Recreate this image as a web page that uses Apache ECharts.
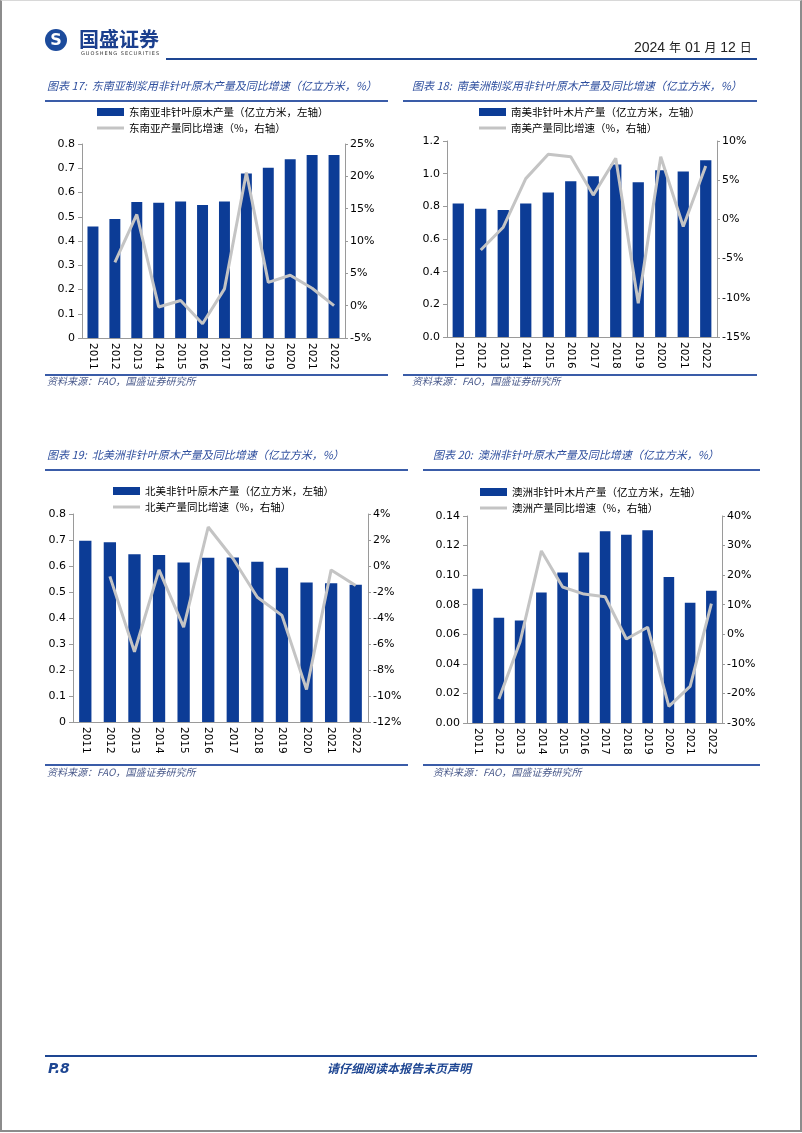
<!DOCTYPE html>
<html>
<head>
<meta charset="utf-8">
<script src="https://cdn.jsdelivr.net/npm/echarts/dist/echarts.min.js"></script>
<style>
  html, body { margin: 0; padding: 0; background: #fff; }
  #page { position: relative; width: 802px; height: 1133px; overflow: hidden; background: #fff; }
  #chart { position: absolute; left: 0; top: 0; width: 802px; height: 1133px; }
  .t { position: absolute; white-space: nowrap; font-family: "Noto Sans CJK SC", sans-serif; }
  .title { font-size: 11px; font-style: italic; color: #2f4f9e; line-height: 14px; }
  .src { font-size: 10px; font-style: italic; color: #4b5b8c; line-height: 14px; }
  .hl { position: absolute; background: #3a5ca8; height: 2px; }
  #border { position: absolute; left: 0; top: 0; width: 798px; height: 1129px; border: 2px solid #8c8c8c; border-top: 1px solid #d8d8d8; box-sizing: content-box; pointer-events: none; }
</style>
</head>
<body>
<div id="page">
  <div id="chart"></div>

  <!-- header -->
  <div style="position:absolute;left:45px;top:29px;width:22px;height:22px;border-radius:50%;background:#1c4b9c;"></div>
  <div class="t" style="left:45px;top:29px;width:22px;height:22px;line-height:22px;text-align:center;color:#fff;font-weight:bold;font-size:16px;font-family:'DejaVu Sans',sans-serif;">S</div>
  <div class="t" style="left:79px;top:27px;font-size:20px;font-weight:bold;color:#1b3f8e;line-height:24px;">国盛证券</div>
  <div class="t" style="left:81px;top:50px;font-size:5px;color:#333;line-height:6px;letter-spacing:1px;font-family:'DejaVu Sans',sans-serif;">GUOSHENG SECURITIES</div>
  <div class="t" style="left:634px;top:38px;font-size:14px;color:#222;line-height:18px;font-family:'Liberation Sans','Noto Sans CJK SC',sans-serif;">2024 <span style="font-size:12px;font-family:'Noto Sans CJK SC'">年</span> 01 <span style="font-size:12px;font-family:'Noto Sans CJK SC'">月</span> 12 <span style="font-size:12px;font-family:'Noto Sans CJK SC'">日</span></div>
  <div class="hl" style="left:166px;top:58px;width:591px;background:#1e4692;"></div>

  <!-- titles -->
  <div class="t title" style="left:47px;top:78px;">图表 17:&nbsp;&nbsp;东南亚制浆用非针叶原木产量及同比增速（亿立方米，%）</div>
  <div class="t title" style="left:412px;top:78px;">图表 18:&nbsp;&nbsp;南美洲制浆用非针叶原木产量及同比增速（亿立方米，%）</div>
  <div class="hl" style="left:45px;top:100px;width:343px;"></div>
  <div class="hl" style="left:403px;top:100px;width:354px;"></div>
  <div class="hl" style="left:45px;top:374px;width:343px;"></div>
  <div class="hl" style="left:403px;top:374px;width:354px;"></div>
  <div class="t src" style="left:47px;top:374px;">资料来源：FAO，国盛证券研究所</div>
  <div class="t src" style="left:412px;top:374px;">资料来源：FAO，国盛证券研究所</div>

  <div class="t title" style="left:47px;top:447px;">图表 19:&nbsp;&nbsp;北美洲非针叶原木产量及同比增速（亿立方米，%）</div>
  <div class="t title" style="left:433px;top:447px;">图表 20:&nbsp;&nbsp;澳洲非针叶原木产量及同比增速（亿立方米，%）</div>
  <div class="hl" style="left:45px;top:469px;width:363px;"></div>
  <div class="hl" style="left:423px;top:469px;width:337px;"></div>
  <div class="hl" style="left:45px;top:764px;width:363px;"></div>
  <div class="hl" style="left:423px;top:764px;width:337px;"></div>
  <div class="t src" style="left:47px;top:765px;">资料来源：FAO，国盛证券研究所</div>
  <div class="t src" style="left:433px;top:765px;">资料来源：FAO，国盛证券研究所</div>

  <!-- footer -->
  <div class="hl" style="left:45px;top:1055px;width:712px;background:#1e4692;"></div>
  <div class="t" style="left:48px;top:1059px;font-size:14px;font-weight:bold;font-style:italic;color:#1e4692;line-height:18px;font-family:'DejaVu Sans',sans-serif;">P.8</div>
  <div class="t" style="left:318px;top:1059px;width:162px;text-align:center;font-size:12px;font-weight:bold;font-style:italic;color:#1e4692;line-height:18px;">请仔细阅读本报告末页声明</div>

  <div id="border"></div>
</div>

<script>
// ---------------- data ----------------
var years = ['2011','2012','2013','2014','2015','2016','2017','2018','2019','2020','2021','2022'];

var seaName = ['东南亚非针叶原木产量（亿立方米，左轴）', '东南亚产量同比增速（%，右轴）'];
var seaVol = [0.460, 0.491, 0.561, 0.558, 0.563, 0.548, 0.563, 0.678, 0.702, 0.737, 0.755, 0.755];
var seaYoY = [null, 6.7, 14.1, -0.2, 0.8, -2.8, 2.6, 20.6, 3.6, 4.7, 2.7, 0.0];

var samName = ['南美非针叶木片产量（亿立方米，左轴）', '南美产量同比增速（%，右轴）'];
var samVol = [0.818, 0.785, 0.777, 0.818, 0.885, 0.954, 0.984, 1.056, 0.948, 1.021, 1.013, 1.082];
var samYoY = [null, -3.9, -1.0, 5.2, 8.3, 8.0, 3.1, 7.8, -10.7, 8.0, -0.9, 6.8];

var namName = ['北美非针叶原木产量（亿立方米，左轴）', '北美产量同比增速（%，右轴）'];
var namVol = [0.697, 0.691, 0.645, 0.642, 0.613, 0.632, 0.633, 0.616, 0.593, 0.537, 0.534, 0.528];
var namYoY = [null, -0.8, -6.6, -0.3, -4.7, 3.0, 0.6, -2.4, -3.8, -9.5, -0.3, -1.5];

var ausName = ['澳洲非针叶木片产量（亿立方米，左轴）', '澳洲产量同比增速（%，右轴）'];
var ausVol = [0.0908, 0.0712, 0.0694, 0.0883, 0.1018, 0.1153, 0.1297, 0.1274, 0.1303, 0.0987, 0.0813, 0.0894];
var ausYoY = [null, -21.9, -2.5, 28.2, 16.0, 13.6, 12.7, -1.6, 2.4, -24.4, -17.6, 10.4];

// axis ranges: [min, max, interval, decimals]
var seaLeftAxis = [0, 0.8, 0.1, 1];   var seaRightAxis = [-5, 25, 5];
var samLeftAxis = [0, 1.2, 0.2, 1];   var samRightAxis = [-15, 10, 5];
var namLeftAxis = [0, 0.8, 0.1, 1];   var namRightAxis = [-12, 4, 2];
var ausLeftAxis = [0, 0.14, 0.02, 2]; var ausRightAxis = [-30, 40, 10];

// ---------------- layout ----------------
var panels = [
  { names: seaName, vol: seaVol, yoy: seaYoY, la: seaLeftAxis, ra: seaRightAxis, zeroPlain: true,
    grid: { left: 82, top: 144, width: 263, height: 194 }, legend: { left: 97, top: 105 } },
  { names: samName, vol: samVol, yoy: samYoY, la: samLeftAxis, ra: samRightAxis, zeroPlain: false,
    grid: { left: 447, top: 141, width: 270, height: 196 }, legend: { left: 479, top: 105 } },
  { names: namName, vol: namVol, yoy: namYoY, la: namLeftAxis, ra: namRightAxis, zeroPlain: true,
    grid: { left: 73, top: 514, width: 295, height: 208 }, legend: { left: 113, top: 484 } },
  { names: ausName, vol: ausVol, yoy: ausYoY, la: ausLeftAxis, ra: ausRightAxis, zeroPlain: false,
    grid: { left: 467, top: 516, width: 255, height: 207 }, legend: { left: 480, top: 485 } }
];

var BAR = '#0c3c96', LINE = '#c4c4c4', AX = '#9a9a9a';
var numFont = 'DejaVu Sans';
var option = { animation: false, grid: [], xAxis: [], yAxis: [], series: [], legend: [] };

panels.forEach(function (p, i) {
  option.grid.push(Object.assign({ containLabel: false }, p.grid));
  option.xAxis.push({
    type: 'category', gridIndex: i, data: years,
    axisLine: { show: true, lineStyle: { color: AX, width: 1 } },
    axisTick: { show: false },
    axisLabel: { rotate: -90, interval: 0, margin: 5, color: '#000', fontFamily: numFont, fontSize: 10.5 }
  });
  var dec = p.la[3], zp = p.zeroPlain;
  option.yAxis.push({
    type: 'value', gridIndex: i, position: 'left',
    min: p.la[0], max: p.la[1], interval: p.la[2],
    splitLine: { show: false },
    axisLine: { show: true, lineStyle: { color: AX, width: 1 } },
    axisTick: { show: true, inside: false, length: 4, lineStyle: { color: AX } },
    axisLabel: { margin: 7, color: '#000', fontFamily: numFont, fontSize: 11,
      formatter: function (v) { return (zp && Math.abs(v) < 1e-9) ? '0' : Number(v).toFixed(dec); } }
  });
  option.yAxis.push({
    type: 'value', gridIndex: i, position: 'right',
    min: p.ra[0], max: p.ra[1], interval: p.ra[2],
    splitLine: { show: false },
    axisLine: { show: true, lineStyle: { color: AX, width: 1 } },
    axisTick: { show: true, inside: false, length: 3, lineStyle: { color: AX } },
    axisLabel: { margin: 5, color: '#000', fontFamily: numFont, fontSize: 11,
      formatter: function (v) { return Math.round(v) + '%'; } }
  });
  option.series.push({
    name: p.names[0], type: 'bar', xAxisIndex: i, yAxisIndex: 2 * i,
    data: p.vol, barWidth: '50%', itemStyle: { color: BAR }
  });
  option.series.push({
    name: p.names[1], type: 'line', xAxisIndex: i, yAxisIndex: 2 * i + 1,
    data: p.yoy, symbol: 'none', showSymbol: false, connectNulls: false,
    lineStyle: { color: LINE, width: 3 }, itemStyle: { color: LINE }, z: 5
  });
  option.legend.push({
    orient: 'vertical', left: p.legend.left, top: p.legend.top, padding: 0,
    data: [
      { name: p.names[0], icon: 'rect' },
      { name: p.names[1], icon: 'path://M0,0 L27,0 L27,3 L0,3 Z', itemStyle: { color: LINE } }
    ],
    itemWidth: 27, itemHeight: 8, itemGap: 2, selectedMode: false, symbolKeepAspect: true,
    textStyle: { fontFamily: 'Noto Sans CJK SC', fontSize: 10.5, color: '#000', lineHeight: 14 }
  });
});

var chart = echarts.init(document.getElementById('chart'), null, { renderer: 'canvas' });
chart.setOption(option);
</script>
</body>
</html>
